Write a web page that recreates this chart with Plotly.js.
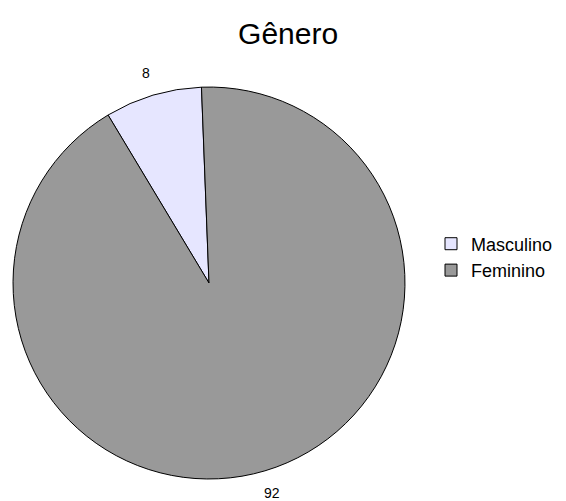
<!DOCTYPE html>
<html>
<head>
<meta charset="utf-8">
<script src="https://cdn.plot.ly/plotly-3.0.1.min.js"></script>
<style>
  html, body { margin: 0; padding: 0; background: #fff; }
  #chart { width: 566px; height: 501px; }
</style>
</head>
<body>
<div id="chart"></div>
<script>
// Gender split of respondents
const categories = ['Masculino', 'Feminino'];
const values = [8, 92];
const sliceColors = ['#E6E6FF', '#999999'];

const W = 566, H = 501;
const pieDomain = { x: [0.0230, 0.7155], y: [0.0439, 0.8263] };
const startAngle = -31;       // degrees, clockwise from 12 o'clock
const labelRadiusFactor = 1.12;

const trace = {
  type: 'pie',
  labels: categories,
  values: values,
  sort: false,
  direction: 'clockwise',
  rotation: startAngle,
  marker: { colors: sliceColors, line: { color: '#000000', width: 1 } },
  textinfo: 'none',
  hoverinfo: 'label+value',
  domain: pieDomain
};

// Value labels placed just outside each slice, at the slice's mid angle
const cxPx = (pieDomain.x[0] + pieDomain.x[1]) / 2 * W;
const cyPx = (1 - (pieDomain.y[0] + pieDomain.y[1]) / 2) * H;
const rPx = Math.min((pieDomain.x[1] - pieDomain.x[0]) * W, (pieDomain.y[1] - pieDomain.y[0]) * H) / 2;
const total = values.reduce((a, b) => a + b, 0);
let acc = 0;
const annotations = values.map(v => {
  const mid = (startAngle + (acc + v / 2) / total * 360) * Math.PI / 180;
  acc += v;
  const px = cxPx + rPx * labelRadiusFactor * Math.sin(mid);
  const py = cyPx - rPx * labelRadiusFactor * Math.cos(mid);
  return {
    xref: 'paper', yref: 'paper',
    x: px / W, y: 1 - py / H,
    xanchor: 'center', yanchor: 'middle',
    text: String(v),
    showarrow: false,
    font: { family: 'Liberation Sans, Arial, sans-serif', size: 14, color: '#000' }
  };
});

const layout = {
  width: W,
  height: H,
  margin: { l: 0, r: 0, t: 0, b: 0 },
  paper_bgcolor: '#ffffff',
  title: {
    text: 'Gênero',
    font: { family: 'Liberation Sans, Arial, sans-serif', size: 30, color: '#000' },
    x: 0.509, xanchor: 'center',
    y: 0.934, yanchor: 'middle'
  },
  showlegend: true,
  legend: {
    x: 0.7615, xanchor: 'left',
    y: 0.487, yanchor: 'middle',
    bgcolor: 'rgba(0,0,0,0)',
    font: { family: 'Liberation Sans, Arial, sans-serif', size: 18, color: '#000' },
    traceorder: 'normal'
  },
  annotations: annotations
};

Plotly.newPlot('chart', [trace], layout, { displayModeBar: false, staticPlot: true });
</script>
</body>
</html>
